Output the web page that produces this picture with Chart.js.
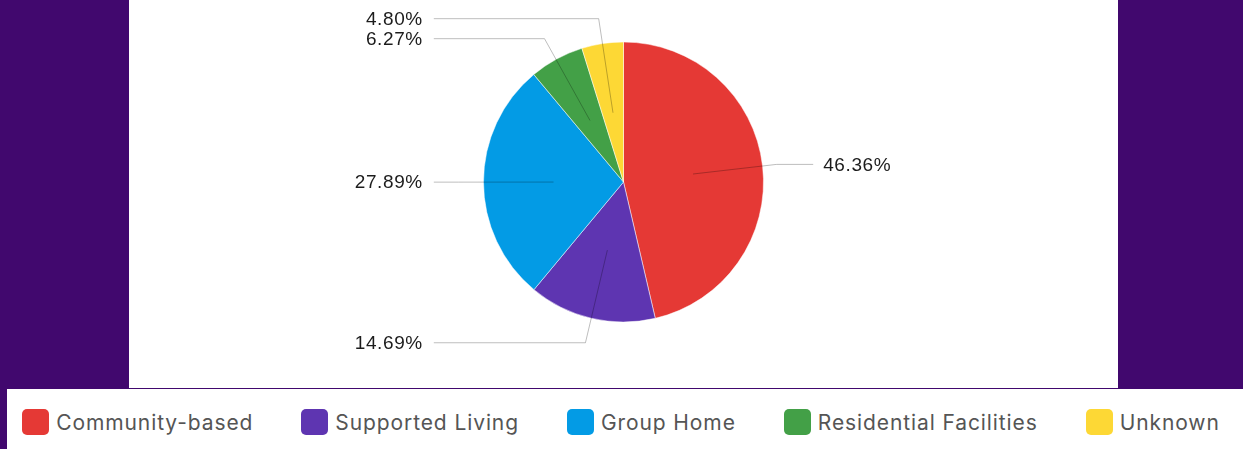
<!DOCTYPE html>
<html>
<head>
<meta charset="utf-8">
<script src="https://cdn.jsdelivr.net/npm/chart.js@4.4.1/dist/chart.umd.min.js"></script>
<style>
    html, body { margin: 0; padding: 0; }
    body {
        width: 1243px;
        height: 449px;
        background: #41086e;
        position: relative;
        overflow: hidden;
    }
    #chartPanel {
        position: absolute;
        left: 129px;
        top: 0;
        width: 989px;
        height: 388px;
        background: #fff;
    }
    #legendPanel {
        position: absolute;
        left: 7px;
        top: 389px;
        width: 1236px;
        height: 60px;
        background: #fff;
    }
    #legend {
        display: flex;
        justify-content: center;
        align-items: center;
        box-sizing: border-box;
        height: 100%;
        margin: 0;
        padding: 6px 8px 0 0;
        list-style: none;
        gap: 48px;
        font-family: Inter, sans-serif;
        font-size: 21px;
        letter-spacing: 0.9px;
        color: #555;
    }
    #legend li { display: flex; align-items: center; }
    #legend .box {
        width: 27px;
        height: 26px;
        border-radius: 5px;
        margin-right: 7px;
    }
</style>
</head>
<body>
<div id="chartPanel"><canvas id="placementChart"></canvas></div>
<div id="legendPanel"><ul id="legend"></ul></div>
<script>
// Placement data
const categories = ['Community-based', 'Supported Living', 'Group Home', 'Residential Facilities', 'Unknown'];
const shares = [46.36, 14.69, 27.89, 6.27, 4.80];
const sliceColors = ['#e53935', '#5e35b1', '#039be5', '#43a047', '#fdd835'];

// leader lines + percent labels, drawn from the arc geometry
const calloutLabels = {
    id: 'calloutLabels',
    afterDatasetsDraw(chart) {
        const ctx = chart.ctx;
        const arcs = chart.getDatasetMeta(0).data;
        const items = arcs.map((arc, i) => {
            const p = arc.getProps(['x', 'y', 'startAngle', 'endAngle', 'outerRadius'], true);
            const mid = (p.startAngle + p.endAngle) / 2;
            const r = p.outerRadius;
            const left = Math.cos(mid) < 0;
            const reach = left ? 1.18 : 1.1;
            return {
                i: i,
                cx: p.x,
                cy: p.y,
                r: r,
                ax: p.x + Math.cos(mid) * r * 0.5,
                ay: p.y + Math.sin(mid) * r * 0.5,
                ex: p.x + Math.cos(mid) * r * reach,
                ey: p.y + Math.sin(mid) * r * reach,
                left: left
            };
        });

        // keep labels on one side from overlapping
        [true, false].forEach(side => {
            const list = items.filter(it => it.left === side).sort((a, b) => a.ey - b.ey);
            for (let k = 1; k < list.length; k++) {
                if (list[k].ey - list[k - 1].ey < 20) {
                    list[k].ey = list[k - 1].ey + 20;
                }
            }
        });

        ctx.save();
        ctx.font = '19px "Liberation Sans", Arial, sans-serif';
        ctx.letterSpacing = '0.6px';
        ctx.textBaseline = 'middle';
        items.forEach(it => {
            const endX = it.left ? it.cx - it.r * 1.355 : it.cx + it.r * 1.355;
            ctx.beginPath();
            ctx.moveTo(it.ax, it.ay);
            ctx.lineTo(it.ex, it.ey);
            ctx.lineTo(endX, it.ey);
            ctx.strokeStyle = 'rgba(0, 0, 0, 0.26)';
            ctx.lineWidth = 1;
            ctx.stroke();

            ctx.fillStyle = '#1c1c1c';
            ctx.textAlign = it.left ? 'right' : 'left';
            ctx.fillText(shares[it.i].toFixed(2) + '%', it.left ? endX - 11 : endX + 10, it.ey + 1);
        });
        ctx.restore();
    }
};

// html legend built from the chart's own legend items
const htmlLegend = {
    id: 'htmlLegend',
    afterUpdate(chart) {
        const ul = document.getElementById('legend');
        ul.innerHTML = '';
        const items = chart.options.plugins.legend.labels.generateLabels(chart);
        items.forEach(item => {
            const li = document.createElement('li');
            const box = document.createElement('span');
            box.className = 'box';
            box.style.background = item.fillStyle;
            const txt = document.createElement('span');
            txt.textContent = item.text;
            li.appendChild(box);
            li.appendChild(txt);
            ul.appendChild(li);
        });
    }
};

const ctx = document.getElementById('placementChart').getContext('2d');
const placementChart = new Chart(ctx, {
    type: 'pie',
    data: {
        labels: categories,
        datasets: [{
            data: shares,
            backgroundColor: sliceColors,
            borderColor: '#ffffff',
            borderWidth: 0.5,
            radius: 140
        }]
    },
    options: {
        responsive: true,
        maintainAspectRatio: false,
        animation: false,
        layout: {
            padding: { top: 0, bottom: 24, left: 0, right: 0 }
        },
        plugins: {
            legend: {
                display: false
            },
            tooltip: {
                enabled: false
            }
        }
    },
    plugins: [calloutLabels, htmlLegend]
});
</script>
</body>
</html>
